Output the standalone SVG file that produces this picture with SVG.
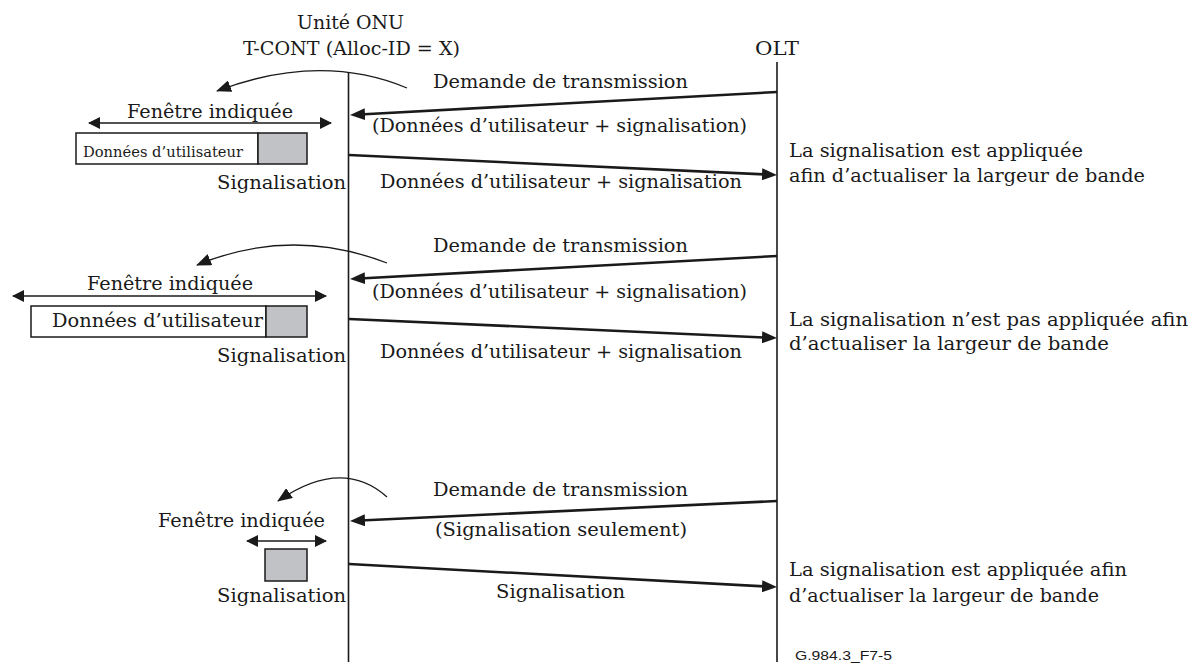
<svg xmlns="http://www.w3.org/2000/svg" width="1195" height="664" viewBox="0 0 1195 664">
<style>
text{font-family:"DejaVu Serif","Liberation Serif",serif;font-size:19px;fill:#1a1a1a}
.sm{font-size:15px}
.id{font-family:"Liberation Sans",Arial,sans-serif;font-size:13.5px}
.life{stroke:#1a1a1a;stroke-width:1.6;fill:none}
.msg{stroke:#1a1a1a;stroke-width:2.6;fill:none}
.win{stroke:#1a1a1a;stroke-width:1.3;fill:none}
.curve{stroke:#1a1a1a;stroke-width:1.3;fill:none}
.box{fill:#fff;stroke:#1a1a1a;stroke-width:1.5}
.sig{fill:#c1c2c5;stroke:#1a1a1a;stroke-width:1.5}
</style>
<defs>
<marker id="ah" markerUnits="userSpaceOnUse" viewBox="0 0 15 12" refX="10" refY="6" markerWidth="15" markerHeight="12" orient="auto"><path d="M0,0L15,6L0,12z" fill="#1a1a1a"/></marker>
<marker id="dh" markerUnits="userSpaceOnUse" viewBox="0 0 12 12" refX="11" refY="6" markerWidth="12" markerHeight="12" orient="auto-start-reverse"><path d="M0,0L12,6L0,12z" fill="#1a1a1a"/></marker>
<marker id="ch" markerUnits="userSpaceOnUse" viewBox="0 0 15 12" refX="14" refY="6" markerWidth="15" markerHeight="12" orient="auto"><path d="M0,0L15,6L0,12z" fill="#1a1a1a"/></marker>
</defs>

<g id="onu">
<text x="297" y="29" textLength="107" lengthAdjust="spacingAndGlyphs">Unité ONU</text>
<text x="243" y="55" textLength="217" lengthAdjust="spacingAndGlyphs">T-CONT (Alloc-ID = X)</text>
<line class="life" x1="348.5" y1="72" x2="348.5" y2="662"/>
</g>
<g id="olt">
<text x="755" y="55" textLength="44" lengthAdjust="spacingAndGlyphs">OLT</text>
<line class="life" x1="777" y1="62" x2="777" y2="662"/>
</g>

<g id="onu-window-1">
<text x="127" y="118" textLength="166" lengthAdjust="spacingAndGlyphs">Fenêtre indiquée</text>
<line class="win" x1="89" y1="123" x2="331" y2="123" marker-start="url(#dh)" marker-end="url(#dh)"/>
<rect class="box" x="76" y="133" width="182" height="31"/>
<rect class="sig" x="258" y="133" width="49" height="31"/>
<text class="sm" x="83" y="157" textLength="160" lengthAdjust="spacingAndGlyphs">Données d’utilisateur</text>
<text x="217" y="189" textLength="129" lengthAdjust="spacingAndGlyphs">Signalisation</text>
</g>
<g id="olt-note-1">
<text x="789" y="157" textLength="294" lengthAdjust="spacingAndGlyphs">La signalisation est appliquée</text>
<text x="789" y="182" textLength="356" lengthAdjust="spacingAndGlyphs">afin d’actualiser la largeur de bande</text>
</g>

<g id="onu-window-2">
<text x="87" y="290" textLength="166" lengthAdjust="spacingAndGlyphs">Fenêtre indiquée</text>
<line class="win" x1="13" y1="296" x2="326" y2="296" marker-start="url(#dh)" marker-end="url(#dh)"/>
<rect class="box" x="31" y="306" width="235" height="31"/>
<rect class="sig" x="266" y="306" width="41" height="31"/>
<text x="52" y="327" textLength="211" lengthAdjust="spacingAndGlyphs">Données d’utilisateur</text>
<text x="217" y="362" textLength="129" lengthAdjust="spacingAndGlyphs">Signalisation</text>
</g>
<g id="olt-note-2">
<text x="789" y="326" textLength="399" lengthAdjust="spacingAndGlyphs">La signalisation n’est pas appliquée afin</text>
<text x="789" y="350" textLength="320" lengthAdjust="spacingAndGlyphs">d’actualiser la largeur de bande</text>
</g>

<g id="onu-window-3">
<text x="158" y="527" textLength="167" lengthAdjust="spacingAndGlyphs">Fenêtre indiquée</text>
<line class="win" x1="247" y1="541" x2="326" y2="541" marker-start="url(#dh)" marker-end="url(#dh)"/>
<rect class="sig" x="265" y="549" width="42" height="32"/>
<text x="217" y="602" textLength="129" lengthAdjust="spacingAndGlyphs">Signalisation</text>
</g>
<g id="olt-note-3">
<text x="789" y="576" textLength="338" lengthAdjust="spacingAndGlyphs">La signalisation est appliquée afin</text>
<text x="789" y="602" textLength="310" lengthAdjust="spacingAndGlyphs">d’actualiser la largeur de bande</text>
</g>

<g id="connectors">
<path class="curve" d="M407,88 Q320,52 217,91" marker-end="url(#ch)"/>
<line class="msg" x1="777" y1="92" x2="355" y2="114.7" marker-end="url(#ah)"/>
<line class="msg" x1="349" y1="155" x2="772" y2="174.8" marker-end="url(#ah)"/>
<path class="curve" d="M387,263 Q291,226 197,265" marker-end="url(#ch)"/>
<line class="msg" x1="777" y1="256" x2="355" y2="278.7" marker-end="url(#ah)"/>
<line class="msg" x1="349" y1="319" x2="772" y2="337.8" marker-end="url(#ah)"/>
<path class="curve" d="M387,497 Q342,457 278,501" marker-end="url(#ch)"/>
<line class="msg" x1="777" y1="501" x2="355" y2="520.8" marker-end="url(#ah)"/>
<line class="msg" x1="349" y1="564" x2="772" y2="586.8" marker-end="url(#ah)"/>
</g>

<g id="labels">
<text x="433" y="88" textLength="255" lengthAdjust="spacingAndGlyphs">Demande de transmission</text>
<text x="372" y="132" textLength="375" lengthAdjust="spacingAndGlyphs">(Données d’utilisateur + signalisation)</text>
<text x="380" y="188" textLength="362" lengthAdjust="spacingAndGlyphs">Données d’utilisateur + signalisation</text>
<text x="433" y="252" textLength="255" lengthAdjust="spacingAndGlyphs">Demande de transmission</text>
<text x="372" y="298" textLength="375" lengthAdjust="spacingAndGlyphs">(Données d’utilisateur + signalisation)</text>
<text x="380" y="358" textLength="362" lengthAdjust="spacingAndGlyphs">Données d’utilisateur + signalisation</text>
<text x="433" y="496" textLength="255" lengthAdjust="spacingAndGlyphs">Demande de transmission</text>
<text x="435" y="536" textLength="252" lengthAdjust="spacingAndGlyphs">(Signalisation seulement)</text>
<text x="496" y="598" textLength="129" lengthAdjust="spacingAndGlyphs">Signalisation</text>
<text class="id" x="795" y="660" textLength="97" lengthAdjust="spacingAndGlyphs">G.984.3_F7-5</text>
</g>
</svg>
